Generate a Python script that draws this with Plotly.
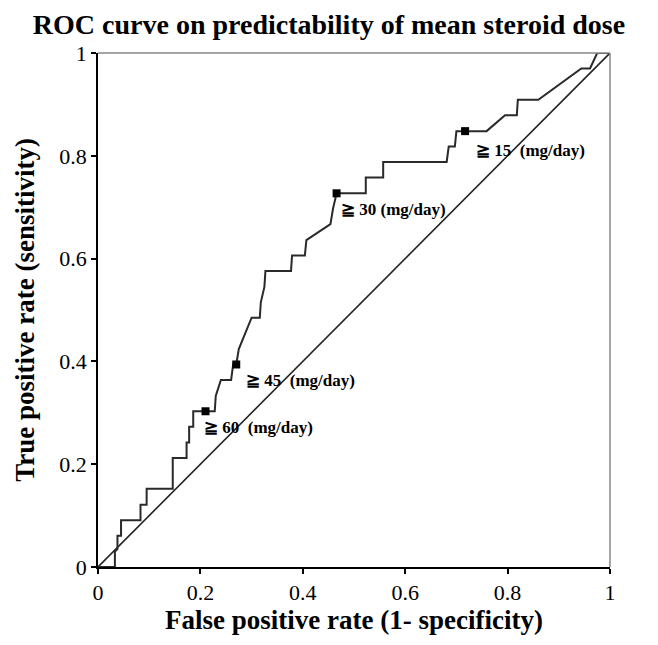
import plotly.graph_objects as go

# ROC curve points
fpr = [0.0, 0.033, 0.033, 0.038, 0.038, 0.045, 0.045, 0.083, 0.083, 0.095, 0.095,
       0.146, 0.146, 0.173, 0.173, 0.178, 0.178, 0.186, 0.186, 0.210, 0.228,
       0.230, 0.240, 0.260, 0.264, 0.270, 0.275, 0.300, 0.316, 0.318, 0.325,
       0.327, 0.377, 0.379, 0.404, 0.407, 0.454, 0.459, 0.466, 0.523, 0.523,
       0.557, 0.557, 0.681, 0.685, 0.697, 0.700, 0.717, 0.759, 0.795, 0.818,
       0.820, 0.860, 0.944, 0.961, 0.975, 1.0]
tpr = [0.0, 0.0, 0.030, 0.035, 0.061, 0.061, 0.091, 0.091, 0.121, 0.121, 0.152,
       0.152, 0.212, 0.212, 0.242, 0.242, 0.273, 0.273, 0.303, 0.303, 0.303,
       0.333, 0.364, 0.364, 0.394, 0.394, 0.424, 0.485, 0.485, 0.515, 0.545,
       0.576, 0.576, 0.606, 0.606, 0.636, 0.667, 0.697, 0.727, 0.727, 0.758,
       0.758, 0.788, 0.788, 0.818, 0.818, 0.848, 0.848, 0.848, 0.879, 0.879,
       0.909, 0.909, 0.970, 0.970, 1.0, 1.0]

# cut-off points
cut_fpr = [0.210, 0.270, 0.466, 0.717]
cut_tpr = [0.303, 0.394, 0.727, 0.848]
cut_labels = ["≧\u00a060\u00a0\u00a0(mg/day)", "≧\u00a045\u00a0\u00a0(mg/day)",
              "≧\u00a030\u00a0(mg/day)", "≧\u00a015\u00a0\u00a0(mg/day)"]
label_x = [0.204, 0.286, 0.471, 0.734]
label_y = [0.272, 0.362, 0.695, 0.811]

ticks = [0, 0.2, 0.4, 0.6, 0.8, 1]
tick_text = ["0", "0.2", "0.4", "0.6", "0.8", "1"]

FONT = "Liberation Serif"

fig = go.Figure()
fig.add_trace(go.Scatter(x=[0, 1], y=[0, 1], mode="lines",
                         line=dict(color="#222222", width=1.6), hoverinfo="skip"))
fig.add_trace(go.Scatter(x=fpr, y=tpr, mode="lines",
                         line=dict(color="#2a2a2a", width=2)))
fig.add_trace(go.Scatter(x=cut_fpr, y=cut_tpr, mode="markers",
                         marker=dict(symbol="square", size=8, color="black")))

for t, lx, ly in zip(cut_labels, label_x, label_y):
    fig.add_annotation(x=lx, y=ly, text="<b>" + t + "</b>", showarrow=False,
                       xanchor="left", yanchor="middle",
                       font=dict(family=FONT, size=17, color="black"))

# axis titles and chart title as annotations for exact placement
fig.add_annotation(xref="paper", yref="paper", x=0.5, y=-0.104,
                   text="<b>False positive rate (1- specificity)</b>", showarrow=False,
                   xanchor="center", yanchor="middle",
                   font=dict(family=FONT, size=27, color="black"))
fig.add_annotation(xref="paper", yref="paper", x=-0.143, y=0.5, textangle=-90,
                   text="<b>True positive rate (sensitivity)</b>", showarrow=False,
                   xanchor="center", yanchor="middle",
                   font=dict(family=FONT, size=27, color="black"))

axis_common = dict(range=[0, 1], tickvals=ticks, ticktext=tick_text,
                   ticks="outside", ticklen=5, tickwidth=1.5, tickcolor="black",
                   showline=True, linecolor="black", linewidth=1.5,
                   showgrid=False, zeroline=False,
                   tickfont=dict(family=FONT, size=22, color="black"))

fig.update_xaxes(**axis_common)
fig.update_yaxes(**axis_common)

# grey frame on top and right
fig.add_shape(type="line", xref="paper", yref="paper", x0=0, x1=1, y0=1, y1=1,
              line=dict(color="#888888", width=1.5))
fig.add_shape(type="line", xref="paper", yref="paper", x0=1, x1=1, y0=0, y1=1,
              line=dict(color="#888888", width=1.5))

fig.update_layout(
    width=642, height=629,
    margin=dict(l=90, r=40, t=45, b=70),
    paper_bgcolor="white", plot_bgcolor="white",
    showlegend=False,
    title=dict(text="<b>ROC curve on predictability of mean steroid dose</b>",
               x=0.5, xanchor="center", y=0.975, yanchor="middle",
               font=dict(family=FONT, size=28, color="black")),
)

fig.write_html("out.html")
